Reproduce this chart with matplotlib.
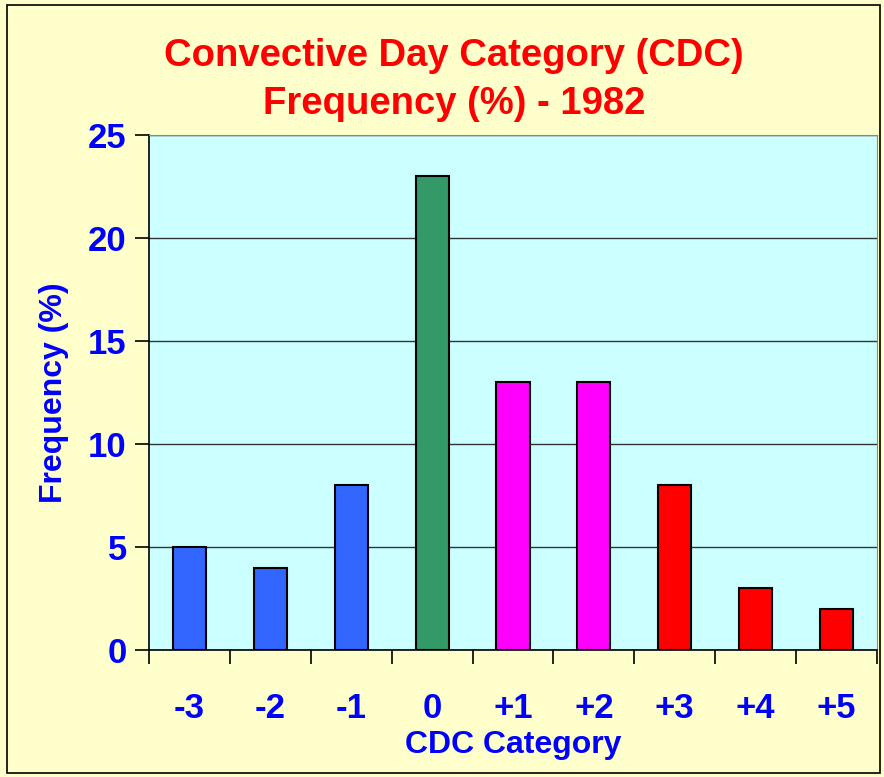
import numpy as np
import matplotlib
matplotlib.use("Agg")
import matplotlib.pyplot as plt
from matplotlib.patches import Rectangle

categories = ["-3", "-2", "-1", "0", "+1", "+2", "+3", "+4", "+5"]
frequency = [5, 4, 8, 23, 13, 13, 8, 3, 2]
bar_colors = ["#3366FF", "#3366FF", "#3366FF", "#339966",
              "#FF00FF", "#FF00FF", "#FF0000", "#FF0000", "#FF0000"]

plt.rcParams["font.family"] = ["Liberation Sans", "DejaVu Sans"]
plt.rcParams["font.weight"] = "bold"

fig = plt.figure(figsize=(8.84, 7.77), dpi=100, facecolor="#FFFFCC")
fig.patches.append(Rectangle((0.008, 0.005), 0.987, 0.988, transform=fig.transFigure,
                             fill=False, edgecolor="black", linewidth=1.2))

W, H = 884, 777
left, right, top, bottom = 149, 877, 135, 650
ax = fig.add_axes([left / W, 1 - bottom / H, (right - left) / W, (bottom - top) / H])
ax.set_facecolor("#CCFFFF")

x = np.arange(len(categories))
ax.bar(x, frequency, width=0.41, color=bar_colors, edgecolor="black", linewidth=1.5, zorder=3)

ax.set_xlim(-0.5, len(categories) - 0.5)
ax.set_ylim(0, 25)
ax.set_yticks(range(0, 26, 5))
ax.yaxis.grid(True, color="#333333", linewidth=1.0, zorder=1)

ax.set_xticks(x)
ax.set_xticklabels(categories)
ax.set_xticks(np.arange(-0.5, len(categories)), minor=True)
ax.tick_params(axis="x", which="major", length=0, pad=30)
ax.tick_params(axis="x", which="minor", length=10, width=1.2, direction="out")
ax.tick_params(axis="y", length=10, width=1.2, direction="out", pad=6)
for lab in ax.get_xticklabels() + ax.get_yticklabels():
    lab.set_color("#0000FF")
    lab.set_fontsize(25)
    lab.set_fontweight("bold")

for side in ["top", "right"]:
    ax.spines[side].set_color("#888888")
for side in ["left", "bottom"]:
    ax.spines[side].set_color("black")
    ax.spines[side].set_linewidth(1.2)

ax.set_xlabel("CDC Category", color="#0000FF", fontsize=23, fontweight="bold", labelpad=4)
ax.set_ylabel("Frequency (%)", color="#0000FF", fontsize=23, fontweight="bold", labelpad=14)

cx = 454 / W
fig.text(cx, 1 - 56 / H, "Convective Day Category (CDC)",
         ha="center", va="center", color="#FF0000", fontsize=27.5, fontweight="bold")
fig.text(cx, 1 - 104 / H, "Frequency (%) - 1982",
         ha="center", va="center", color="#FF0000", fontsize=27.5, fontweight="bold")

fig.savefig("out.png", dpi=100, facecolor=fig.get_facecolor())
